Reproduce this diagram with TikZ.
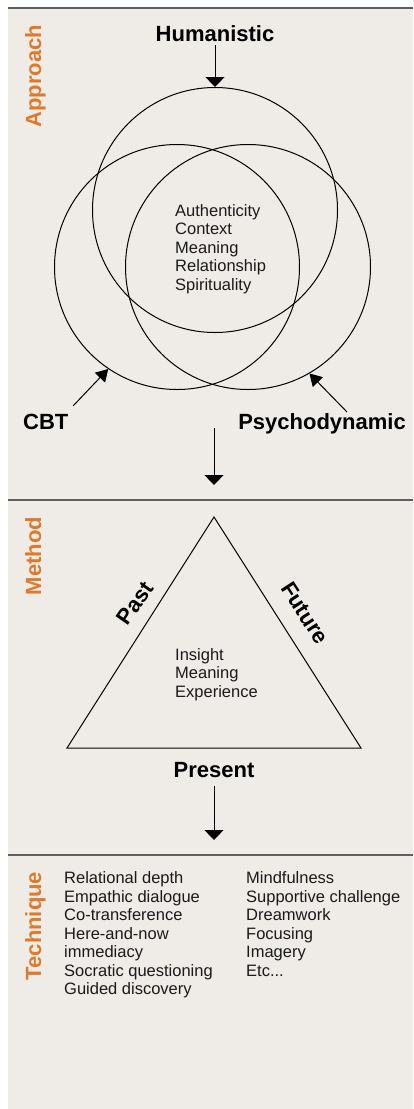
\documentclass[tikz,border=0pt]{standalone}
\usepackage{fontspec}
\setmainfont{Liberation Sans}
\usetikzlibrary{arrows.meta}
\definecolor{panelbg}{HTML}{EFECE8}
\definecolor{labelorange}{HTML}{E07A2A}
\definecolor{sepgrey}{HTML}{5E5E5E}
\definecolor{bodyink}{HTML}{1A1A1A}
\begin{document}
\begin{tikzpicture}[x=1pt,y=-1pt,
  headline/.style={font=\fontsize{22}{24}\selectfont\bfseries, inner sep=0pt, text=black},
  sidelabel/.style={font=\fontsize{22}{24}\selectfont\bfseries, text=labelorange, rotate=90, inner sep=0pt, anchor=base},
  bodytext/.style={font=\fontsize{16.5}{18.5}\selectfont, align=left, inner sep=0pt, text=bodyink, anchor=north west},
  ring/.style={circle, draw=black, line width=1pt, minimum size=245pt, inner sep=0pt},
  seprule/.style={draw=sepgrey, line width=1.5pt},
  downarr/.style={-{Triangle[width=19pt,length=10pt]}, line width=1pt},
  diagarr/.style={-{Triangle[width=14pt,length=12pt]}, line width=1pt}
]
\useasboundingbox (0,0) rectangle (413,1109);
\fill[panelbg] (8,8) rectangle (413,1109);
\draw[seprule] (8,8) -- (413,8);
\draw[seprule] (8,500) -- (413,500);
\draw[seprule] (8,855) -- (413,855);

% side labels
\node[sidelabel] (lapp) at (41,76) {Approach};
\node[sidelabel] (lmet) at (41,556) {Method};
\node[sidelabel] (ltec) at (41,926) {Technique};

% Approach: three circles
\node[ring] (ctop) at (215,210) {};
\node[ring] (cleft) at (177,267) {};
\node[ring] (cright) at (248,267) {};

\node[headline, anchor=base] (hum) at (215,41) {Humanistic};
\node[headline, anchor=base west] (cbt) at (23,429) {CBT};
\node[headline, anchor=base east] (psy) at (406,429) {Psychodynamic};

\node[bodytext] (core) at (175,204) {Authenticity\\Context\\Meaning\\Relationship\\Spirituality};

\coordinate (cbtstart) at (73,406);
\coordinate (psystart) at (347,412);
\draw[downarr] ([yshift=-4pt]hum.south) -- (ctop.north);
\draw[diagarr] (cbtstart) -- (cleft.236);
\draw[diagarr] (psystart) -- (cright.300);

\coordinate (a1s) at (214,428);
\coordinate (a1e) at (214,485);
\draw[downarr] (a1s) -- (a1e);

% Method: triangle
\coordinate (tl) at (67,748);
\coordinate (tr) at (361,748);
\coordinate (tt) at (214,517);
\draw[line width=1pt] (tl) -- (tt) -- (tr) -- cycle;
\node[headline, rotate=55] (past) at (135,603) {Past};
\node[headline, rotate=-57] (fut) at (305,613) {Future};
\node[bodytext] (ime) at (175,648) {Insight\\Meaning\\Experience};
\node[headline, anchor=base] (pres) at (214,777) {Present};

\coordinate (a2e) at (214,840);
\draw[downarr] ([yshift=-9pt]pres.south) -- (a2e);

% Technique
\node[bodytext] (tecl) at (64,871.5) {Relational depth\\Empathic dialogue\\Co-transference\\Here-and-now\\immediacy\\Socratic questioning\\Guided discovery};
\node[bodytext] (tecr) at (246,871.5) {Mindfulness\\Supportive challenge\\Dreamwork\\Focusing\\Imagery\\Etc...};
\end{tikzpicture}
\end{document}
